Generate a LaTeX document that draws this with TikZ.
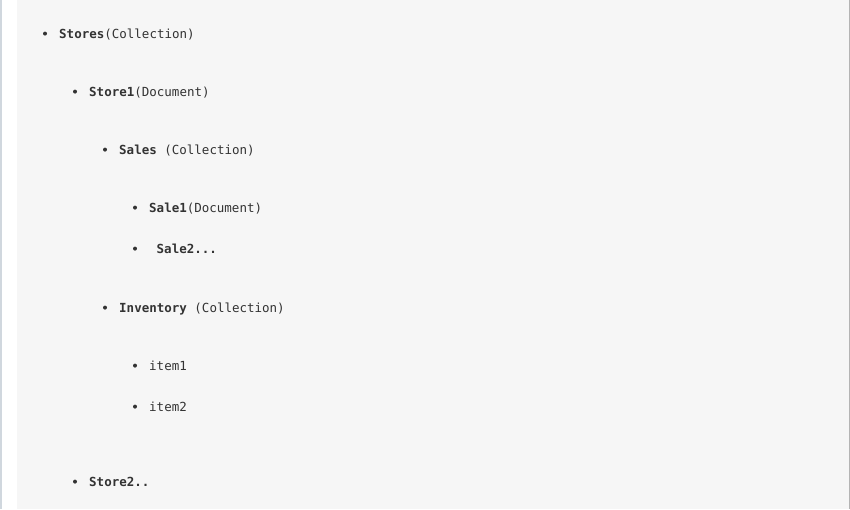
\documentclass[tikz,border=0pt]{standalone}
\usepackage{fontspec}
\setmonofont{DejaVu Sans Mono}
\usetikzlibrary{positioning}

\definecolor{panelgray}{HTML}{F6F6F6}
\definecolor{inkgray}{HTML}{333333}
\definecolor{leftrule}{HTML}{D0D7DE}
\definecolor{rightrule}{HTML}{B4B4B4}

\begin{document}
\begin{tikzpicture}[
    x=1pt, y=-1pt,
    entry/.style={anchor=base west, inner sep=0pt, text=inkgray, font=\ttfamily\fontsize{12.5}{15}\selectfont},
    bulletdot/.style={fill=inkgray}
]
\useasboundingbox (0,0) rectangle (850,509);

% === PANEL ===
\fill[white] (0,0) rectangle (850,509);
\fill[panelgray] (17,0) rectangle (849,509);
\fill[leftrule] (0,0) rectangle (1.5,509);
\fill[rightrule] (849,0) rectangle (850,509);

% === LIST ENTRIES ===
\node (stores) [entry] at (59,38) {\textbf{Stores}(Collection)};
\node (store1) [entry] at (89,96) {\textbf{Store1}(Document)};
\node (sales) [entry] at (119,154) {\textbf{Sales} (Collection)};
\node (sale1) [entry] at (149,212) {\textbf{Sale1}(Document)};
\node (sale2) [entry] at (156.5,253) {\textbf{Sale2...}};
\node (inventory) [entry] at (119,312) {\textbf{Inventory} (Collection)};
\node (item1) [entry] at (149,370) {item1};
\node (item2) [entry] at (149,411) {item2};
\node (store2) [entry] at (89,486) {\textbf{Store2..}};

% === BULLETS ===
\foreach \n in {stores,store1,sales,sale1,inventory,item1,item2,store2}
    \fill[bulletdot] (\n.base west) ++(-14,-4.4) circle (2);
\fill[bulletdot] (sale2.base west) ++(-21.5,-4.4) circle (2);

\end{tikzpicture}
\end{document}
